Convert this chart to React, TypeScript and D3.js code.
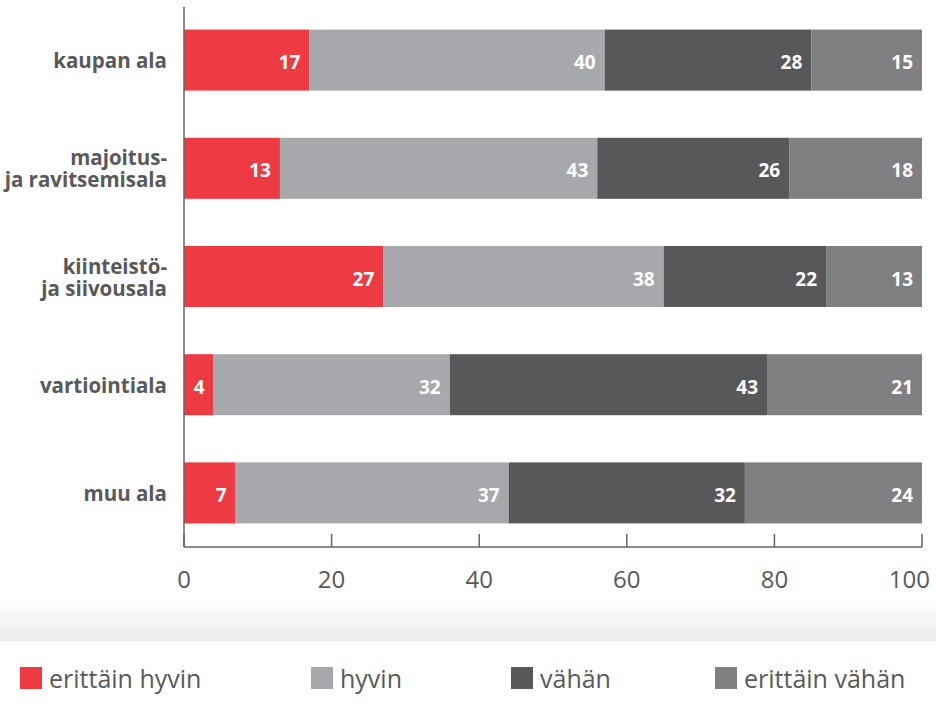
import * as d3 from "d3";

const categories = [
  ["kaupan ala"],
  ["majoitus-", "ja ravitsemisala"],
  ["kiinteistö-", "ja siivousala"],
  ["vartiointiala"],
  ["muu ala"],
];
const seriesNames = ["erittäin hyvin", "hyvin", "vähän", "erittäin vähän"];
const erittainHyvin = [17, 13, 27, 4, 7];
const hyvin = [40, 43, 38, 32, 37];
const vahan = [28, 26, 22, 43, 32];
const erittainVahan = [15, 18, 13, 21, 24];
const xTicks = [0, 20, 40, 60, 80, 100];

const colors = ["#ee3a43", "#a7a8ab", "#58585a", "#808083"];
const legendX = [20, 311, 511, 715];
const textColor = "#58595b";
const font = "'Open Sans', 'Noto Sans', sans-serif";

export default function App() {
  const width = 936;
  const height = 712;
  const keys = categories.map((c) => c.join(" "));
  const rows = keys.map((k, i) => ({
    key: k,
    values: [erittainHyvin[i], hyvin[i], vahan[i], erittainVahan[i]],
  }));

  const x = d3.scaleLinear().domain([0, 100]).range([184, 922]);
  const y = d3
    .scaleBand<string>()
    .domain(keys)
    .range([6, 547])
    .paddingInner(0.436)
    .paddingOuter(0.218);

  const stacked = d3
    .stack<{ key: string; values: number[] }, number>()
    .keys([0, 1, 2, 3])
    .value((d, k) => d.values[k])(rows);

  return (
    <svg
      width={width}
      height={height}
      style={{ position: "absolute", left: 0, top: 0, fontFamily: font }}
    >
      <defs>
        <linearGradient id="band" x1="0" x2="0" y1="0" y2="1">
          <stop offset="0%" stopColor="#ffffff" />
          <stop offset="100%" stopColor="#ebecee" />
        </linearGradient>
      </defs>
      <rect x={0} y={0} width={width} height={height} fill="#fff" />
      <rect x={0} y={598} width={width} height={43} fill="url(#band)" />

      {stacked.map((layer, si) =>
        layer.map((seg, ci) => (
          <g key={`${si}-${ci}`}>
            <rect
              x={x(seg[0])}
              y={y(keys[ci])}
              width={x(seg[1]) - x(seg[0])}
              height={y.bandwidth()}
              fill={colors[si]}
            />
            <text
              x={x(seg[1]) - 9}
              y={(y(keys[ci]) ?? 0) + y.bandwidth() / 2 + 2}
              textAnchor="end"
              dominantBaseline="central"
              fill="#fff"
              fontWeight="bold"
              fontSize={19}
            >
              {seg[1] - seg[0]}
            </text>
          </g>
        )),
      )}

      {categories.map((lines, i) => {
        const cy = (y(keys[i]) ?? 0) + y.bandwidth() / 2;
        const lh = 22;
        const start = cy - ((lines.length - 1) * lh) / 2;
        return (
          <g key={keys[i]}>
            {lines.map((l, j) => (
              <text
                key={j}
                x={167}
                y={start + j * lh}
                textAnchor="end"
                dominantBaseline="central"
                fill={textColor}
                fontWeight="bold"
                fontSize={20.5}
              >
                {l}
              </text>
            ))}
          </g>
        );
      })}

      <line x1={184} x2={184} y1={7} y2={547} stroke="#666" strokeWidth={1.5} />
      <line x1={184} x2={922} y1={547} y2={547} stroke="#666" strokeWidth={1.5} />
      {xTicks.map((t, i) => {
        const last = i === xTicks.length - 1;
        return (
          <g key={t}>
            <line x1={x(t)} x2={x(t)} y1={534} y2={547} stroke="#666" strokeWidth={1.5} />
            <text
              x={last ? width - 6 : x(t)}
              y={578}
              textAnchor={last ? "end" : "middle"}
              dominantBaseline="central"
              fill={textColor}
              fontSize={24}
            >
              {t}
            </text>
          </g>
        );
      })}

      {seriesNames.map((name, i) => (
        <g key={name} transform={`translate(${legendX[i]},667)`}>
          <rect width={22} height={22} fill={colors[i]} />
          <text x={29} y={11} dominantBaseline="central" fill={textColor} fontSize={25}>
            {name}
          </text>
        </g>
      ))}
    </svg>
  );
}
